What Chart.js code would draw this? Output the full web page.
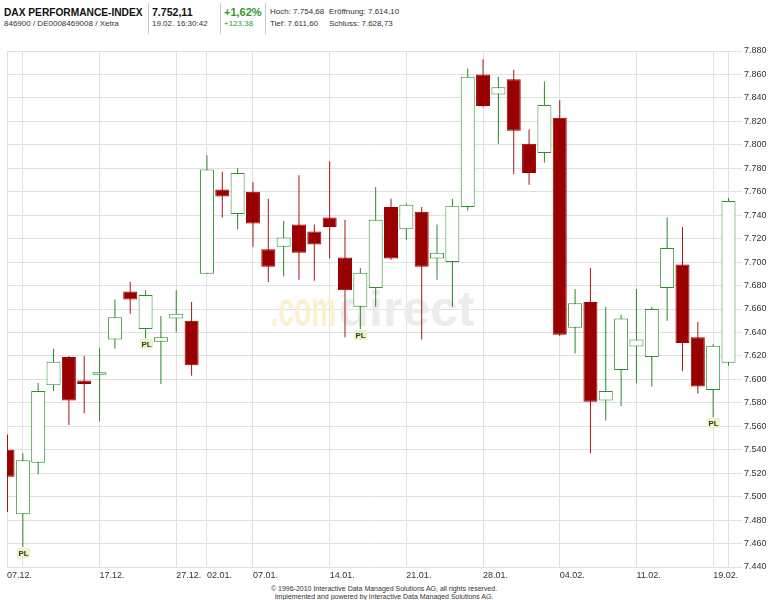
<!DOCTYPE html>
<html><head><meta charset="utf-8">
<script src="https://cdn.jsdelivr.net/npm/chart.js@4.4.1/dist/chart.umd.min.js"></script>
<style>
html,body{margin:0;padding:0;background:#fff;}
body{width:768px;height:600px;position:relative;overflow:hidden;font-family:Arial,"Liberation Sans",sans-serif;color:#222;}
.t{position:absolute;white-space:nowrap;line-height:1;}
.b{font-weight:bold;font-size:11px;color:#111;}
.s{font-size:8px;color:#333;}
.g{color:#2e9a2e;}
.sep{position:absolute;top:3px;height:31px;width:1px;background:#c8c8c8;}
#wrap{position:absolute;left:0;top:40px;width:768px;height:545px;}
.f{position:absolute;left:0;width:768px;text-align:center;font-size:7px;color:#333;line-height:1;white-space:nowrap;}
</style></head><body>
<div class="t b" style="left:4px;top:7px;transform:scaleX(0.925);transform-origin:0 0;">DAX PERFORMANCE-INDEX</div>
<div class="t s" style="left:4px;top:20px;">846900 / DE0008469008 / Xetra</div>
<div class="sep" style="left:148px;"></div>
<div class="t b" style="left:152px;top:7px;transform:scaleX(0.96);transform-origin:0 0;">7.752,11</div>
<div class="t s" style="left:152px;top:20px;">19.02. 16:30:42</div>
<div class="sep" style="left:220px;"></div>
<div class="t b g" style="left:224px;top:7px;">+1,62%</div>
<div class="t s g" style="left:224px;top:20px;">+123,38</div>
<div class="sep" style="left:265px;"></div>
<div class="t s" style="left:270px;top:8px;">Hoch: 7.754,68</div>
<div class="t s" style="left:329px;top:8px;">Eröffnung: 7.614,10</div>
<div class="t s" style="left:270px;top:20px;">Tief: 7.611,60</div>
<div class="t s" style="left:329px;top:20px;">Schluss: 7.628,73</div>
<div id="wrap"><canvas id="c" width="768" height="545"></canvas></div>
<div class="f" style="top:585px;">© 1996-2010 Interactive Data Managed Solutions AG, all rights reserved.</div>
<div class="f" style="top:593px;">Implemented and powered by Interactive Data Managed Solutions AG.</div>
<script>
// ---- data ----
const opens  = [7540,7485,7529,7595,7619,7599,7604,7634,7675,7643,7632,7652,7650,7690,7762,7741,7760,7711,7713,7732,7726,7738,7704,7662,7678,7747,7728,7743,7703,7700,7747,7860,7843,7856,7801,7793,7823,7644,7666,7582,7608,7628,7619,7678,7698,7636,7591,7614.10];
const highs  = [7553,7537,7597,7626,7620,7620,7627,7668,7683,7676,7654,7676,7666,7791,7777,7780,7768,7754,7735,7774,7732,7786,7736,7695,7764,7754,7750,7747,7732,7754,7865,7873,7858,7864,7813,7854,7838,7677,7695,7662,7655,7677,7662,7738,7730,7649,7630,7754.68];
const lows   = [7487,7457,7519,7590,7561,7571,7564,7626,7656,7635,7596,7640,7603,7690,7738,7728,7713,7683,7688,7685,7684,7703,7636,7643,7662,7702,7719,7634,7685,7662,7744,7832,7801,7775,7766,7785,7637,7622,7537,7565,7577,7597,7594,7650,7607,7588,7568,7611.60];
const closes = [7517,7531,7590,7615,7582,7596,7606,7653,7668,7672,7636,7656,7612,7779,7756,7776,7733,7696,7721,7708,7715,7730,7676,7691,7736,7703,7749,7696,7708,7748,7858,7833,7849,7812,7776,7834,7638,7665,7581,7590,7652,7634,7660,7712,7631,7594,7628.73,7752.11];
const xLabels   = ["07.12.","17.12.","27.12.","02.01.","07.01.","14.01.","21.01.","28.01.","04.02.","11.02.","19.02."];
const xLabelIdx = [1,6,11,13,16,21,26,31,36,41,46];
const plIdx = [1,9,23,46];
const yMin = 7440, yMax = 7880, yStep = 20;

// ---- build ----
const n = opens.length;
const up = opens.map((o,i)=> closes[i] >= o);
const bodyData = opens.map((o,i)=>({x:i, y:[o, closes[i]]}));
const wickData = opens.map((o,i)=>({x:i, y:[lows[i], highs[i]]}));
const GREEN='#2f8f2f', GREENW='#2a8a2a', RED='#990000', REDW='#a01818', GRID='#e0e0e0';
const xMin = -0.033, xMax = (n-1) + 0.88;

Chart.defaults.font.family = 'Arial, "Liberation Sans", sans-serif';
Chart.defaults.font.size = 9;
Chart.defaults.color = '#333';

const watermark = {
  id:'wm',
  beforeDatasetsDraw(chart){
    const {ctx, chartArea:ca} = chart;
    const cx=(ca.left+ca.right)/2, by=(ca.top+ca.bottom)/2+17;
    ctx.save();
    ctx.font='bold 50px Arial, "Liberation Sans", sans-serif';
    ctx.textAlign='left'; ctx.textBaseline='alphabetic';
    ctx.fillStyle='#fbf1d2'; ctx.fillText('.com', cx-104, by, 66);
    ctx.fillStyle='#ececec'; ctx.fillText('direct', cx-36, by, 142);
    ctx.restore();
  }
};
const plMarks = {
  id:'pl',
  afterDatasetsDraw(chart){
    const {ctx} = chart; const xs=chart.scales.x, ys=chart.scales.y;
    ctx.save();
    plIdx.forEach(i=>{
      const x=xs.getPixelForValue(i), y=ys.getPixelForValue(lows[i]);
      ctx.fillStyle='#eaf4c4';
      ctx.fillRect(Math.round(x)-6, Math.round(y)+1, 13, 10);
      ctx.fillStyle='#333'; ctx.font='bold 8px Arial, "Liberation Sans", sans-serif';
      ctx.textAlign='center'; ctx.textBaseline='middle';
      ctx.fillText('PL', Math.round(x)+0.5, Math.round(y)+6.5);
    });
    ctx.restore();
  }
};

new Chart(document.getElementById('c'), {
  type:'bar',
  data:{datasets:[
    {data:wickData, backgroundColor:c=>up[c.dataIndex]?GREENW:REDW, borderWidth:0, barThickness:1, grouped:false, order:2, inflateAmount:0, clip:0},
    {data:bodyData, backgroundColor:c=>up[c.dataIndex]?'#ffffff':RED, borderColor:c=>up[c.dataIndex]?GREEN:RED, borderWidth:1, borderSkipped:false, barThickness:14, grouped:false, order:1, inflateAmount:0, clip:0}
  ]},
  options:{
    responsive:false, animation:false, devicePixelRatio:1,
    layout:{padding:{left:7, top:11, right:0, bottom:0}},
    plugins:{legend:{display:false}, tooltip:{enabled:false}},
    scales:{
      x:{type:'linear', min:xMin, max:xMax, bounds:'data', offset:false,
         grid:{color:GRID, drawTicks:false, offset:false}, border:{display:false},
         afterBuildTicks(s){ const t=[{value:xMin}]; xLabelIdx.forEach(v=>t.push({value:v})); t.push({value:n-1}); s.ticks=t; },
         afterFit(s){ s.height=18; },
         ticks:{autoSkip:false, maxRotation:0, align:'start', padding:3, color:'#333',
           callback:(v,i)=> i===0 ? xLabels[0] : (i>=2 && i-1 < xLabels.length ? xLabels[i-1] : '')}
      },
      y:{type:'linear', position:'right', min:yMin, max:yMax,
         grid:{color:GRID, drawTicks:false}, border:{display:false},
         afterFit(s){ s.width=26; },
         ticks:{stepSize:yStep, padding:2, color:'#333',
           callback:v=>{ const s=String(Math.round(v)); return s.slice(0,s.length-3)+'.'+s.slice(-3); }}
      }
    }
  },
  plugins:[watermark, plMarks]
});
</script>
</body></html>
